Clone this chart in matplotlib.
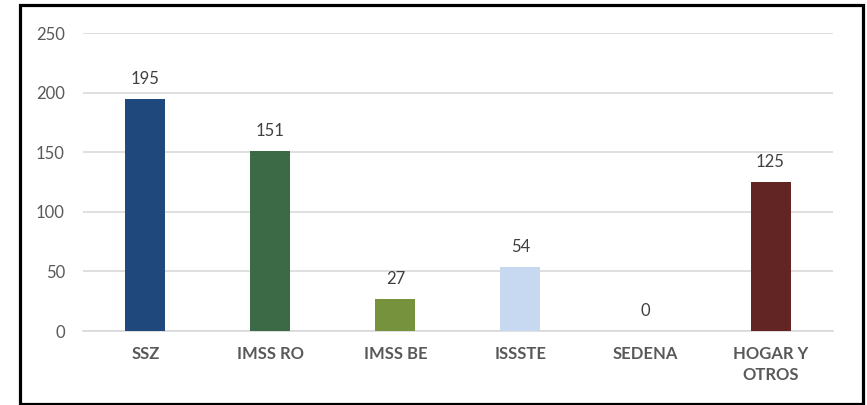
import matplotlib.pyplot as plt
from matplotlib.patches import Rectangle

categories = ['SSZ', 'IMSS RO', 'IMSS BE', 'ISSSTE', 'SEDENA', 'HOGAR Y\nOTROS']
values = [195, 151, 27, 54, 0, 125]
colors = ['#1F497D', '#3C6A46', '#76923C', '#C6D9F1', '#A5A5A5', '#632523']
yticks = [0, 50, 100, 150, 200, 250]

plt.rcParams['font.family'] = ['Lato', 'DejaVu Sans']
txt = '#595959'

fig = plt.figure(figsize=(8.67, 4.05), dpi=100)
ax = fig.add_axes([0.0957, 0.1827, 0.8651, 0.7358])

x = range(len(categories))
bars = ax.bar(x, values, width=0.32, color=colors, zorder=3)
for xi, v in zip(x, values):
    ax.text(xi, v + 10, str(v), ha='center', va='bottom', fontsize=12, color='#404040')

ax.set_xlim(-0.5, len(categories) - 0.5)
ax.set_ylim(0, 250)
ax.set_yticks(yticks)
ax.set_xticks(list(x))
ax.set_xticklabels(categories, fontsize=12, fontweight='bold', color=txt, linespacing=1.35)
ax.tick_params(axis='y', labelsize=12, labelcolor=txt, length=0, pad=13)
ax.tick_params(axis='x', length=0, pad=11)
ax.grid(axis='y', color='#D9D9D9', linewidth=1.2, zorder=0)
for s in ['top', 'right', 'left']:
    ax.spines[s].set_visible(False)
ax.spines['bottom'].set_color('#D9D9D9')
ax.spines['bottom'].set_linewidth(1.2)

# black frame around chart area
fig.patches.append(Rectangle((19.5 / 867, 1.5 / 405), (862.5 - 19.5) / 867, (400 - 1) / 405,
                             transform=fig.transFigure, fill=False, edgecolor='black',
                             linewidth=2.3))

fig.savefig('out.png', dpi=100)
